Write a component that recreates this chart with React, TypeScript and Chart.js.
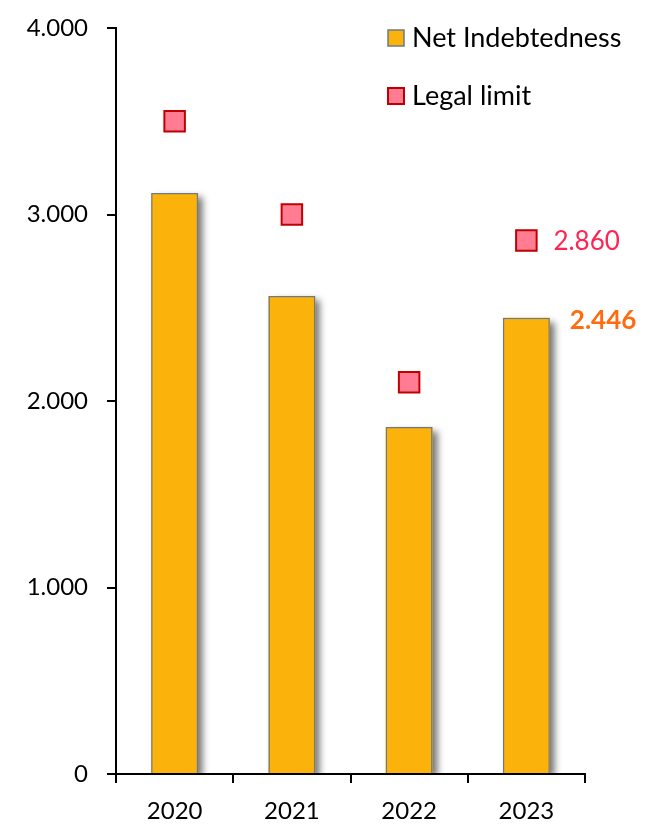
import React, { useEffect, useRef } from "react";
import { Chart, registerables } from "chart.js";

Chart.register(...registerables);

const categories = ["2020", "2021", "2022", "2023"];
const netIndebtedness = [3115, 2563, 1861, 2446];
const legalLimit = [3500, 3000, 2100, 2860];
const yTicks = [0, 1000, 2000, 3000, 4000];
const seriesNames = ["Net Indebtedness", "Legal limit"];

const FONT = "Lato";
const fmt = (v: number) => {
  const s = Math.round(v).toString();
  return s.replace(/\B(?=(\d{3})+(?!\d))/g, ".");
};

const BAR_FILL = "#FBB30C";
const BAR_BORDER = "#6E7A85";
const PT_FILL = "#FF7C93";
const PT_BORDER = "#C00000";

const shadowPlugin = {
  id: "barShadow",
  beforeDatasetDraw(chart: any, args: any) {
    if (args.index !== 0) return;
    const ctx = chart.ctx;
    const area = chart.chartArea;
    ctx.save();
    ctx.beginPath();
    ctx.rect(area.left, area.top, area.right - area.left + 20, area.bottom - area.top);
    ctx.clip();
    ctx.shadowColor = "rgba(0,0,0,0.55)";
    ctx.shadowBlur = 7;
    ctx.shadowOffsetX = 5;
    ctx.shadowOffsetY = 4;
    ctx.fillStyle = BAR_FILL;
    args.meta.data.forEach((el: any) => {
      const w = el.width;
      ctx.fillRect(el.x - w / 2, el.y, w, el.base - el.y);
    });
    ctx.restore();
  },
};

const extrasPlugin = {
  id: "extras",
  afterDraw(chart: any) {
    const ctx = chart.ctx;
    ctx.save();
    // legend
    const items = [
      { fill: BAR_FILL, border: BAR_BORDER, bw: 1.5, y: 38 },
      { fill: PT_FILL, border: PT_BORDER, bw: 2, y: 96 },
    ];
    items.forEach((it, i) => {
      ctx.fillStyle = it.fill;
      ctx.strokeStyle = it.border;
      ctx.lineWidth = it.bw;
      ctx.fillRect(388, it.y - 8, 16, 16);
      ctx.strokeRect(388, it.y - 8, 16, 16);
      ctx.fillStyle = "#000";
      ctx.font = `27px ${FONT}`;
      ctx.textBaseline = "middle";
      ctx.textAlign = "left";
      ctx.fillText(seriesNames[i], 412, it.y);
    });
    // data labels for last year
    const last = categories.length - 1;
    const barEl = chart.getDatasetMeta(0).data[last];
    const ptEl = chart.getDatasetMeta(1).data[last];
    ctx.textBaseline = "middle";
    ctx.textAlign = "left";
    ctx.font = `26px ${FONT}`;
    ctx.fillStyle = "#FF2452";
    ctx.fillText(fmt(legalLimit[last]), ptEl.x + 27, ptEl.y + 1);
    ctx.font = `bold 26px ${FONT}`;
    ctx.fillStyle = "#FF6B0F";
    ctx.fillText(fmt(netIndebtedness[last]), barEl.x + barEl.width / 2 + 20, barEl.y + 3);
    ctx.restore();
  },
};

export default function App() {
  const ref = useRef<HTMLCanvasElement>(null);
  useEffect(() => {
    if (!ref.current) return;
    const chart = new Chart(ref.current, {
      type: "bar",
      data: {
        labels: categories,
        datasets: [
          {
            type: "bar",
            label: seriesNames[0],
            data: netIndebtedness,
            backgroundColor: BAR_FILL,
            borderColor: BAR_BORDER,
            borderWidth: 1.5,
            barPercentage: 0.4,
            categoryPercentage: 1,
            order: 2,
          },
          {
            type: "line",
            label: seriesNames[1],
            data: legalLimit,
            showLine: false,
            pointStyle: "rect",
            pointRadius: 14.5,
            pointHoverRadius: 14.5,
            backgroundColor: PT_FILL,
            borderColor: PT_BORDER,
            pointBorderWidth: 2,
            order: 1,
          } as any,
        ],
      },
      options: {
        animation: false,
        responsive: false,
        maintainAspectRatio: false,
        layout: { padding: { left: 0, right: 67, top: 28, bottom: 0 } },
        plugins: {
          legend: { display: false },
          tooltip: { enabled: false },
        },
        scales: {
          x: {
            afterFit: (s: any) => {
              s.height = 52;
            },
            border: { display: true, color: "#000", width: 2 },
            grid: {
              display: true,
              drawOnChartArea: false,
              drawTicks: true,
              tickLength: 9,
              color: "#000",
              lineWidth: 2,
              offset: true,
            },
            ticks: {
              color: "#000",
              padding: 14,
              font: { family: FONT, size: 24 },
              maxRotation: 0,
            },
          },
          y: {
            min: 0,
            max: 4000,
            afterFit: (s: any) => {
              s.width = 116;
              s.paddingTop = 0;
              s.paddingBottom = 0;
            },
            afterBuildTicks: (s: any) => {
              s.ticks = yTicks.map((v) => ({ value: v }));
            },
            border: { display: true, color: "#000", width: 2 },
            grid: {
              display: true,
              drawOnChartArea: false,
              drawTicks: true,
              tickLength: 9,
              color: "#000",
              lineWidth: 2,
            },
            ticks: {
              color: "#000",
              padding: 19,
              font: { family: FONT, size: 24 },
              callback: (v: any) => fmt(Number(v)),
            },
          },
        },
      },
      plugins: [shadowPlugin, extrasPlugin],
    });
    return () => chart.destroy();
  }, []);
  return (
    <div style={{ position: "absolute", left: 0, top: 0, width: 652, height: 826, background: "#fff" }}>
      <canvas ref={ref} width={652} height={826} style={{ width: 652, height: 826, display: "block" }} />
    </div>
  );
}
